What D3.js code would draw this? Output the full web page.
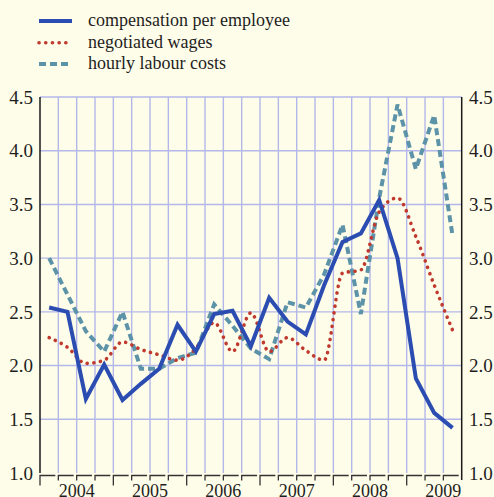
<!DOCTYPE html>
<html>
<head>
<meta charset="utf-8">
<script src="https://cdn.jsdelivr.net/npm/d3@7"></script>
<style>
  html, body { margin: 0; padding: 0; background: #fefde9; }
  svg { display: block; }
</style>
</head>
<body>
<svg id="chart" width="494" height="497"></svg>
<script>
// ---- data (quarterly, 2004 Q1 .. 2009 Q3) ----
const years = ["2004", "2005", "2006", "2007", "2008", "2009"];
const yTicks = [1.0, 1.5, 2.0, 2.5, 3.0, 3.5, 4.0, 4.5];
const seriesNames = ["compensation per employee", "negotiated wages", "hourly labour costs"];
const compensation = [2.54, 2.50, 1.69, 2.01, 1.68, 1.83, 1.97, 2.38, 2.13, 2.48, 2.51, 2.18,
                      2.63, 2.41, 2.29, 2.75, 3.15, 3.23, 3.54, 3.00, 1.88, 1.56, 1.42];
const negotiated   = [2.26, 2.17, 2.02, 2.05, 2.22, 2.15, 2.10, 2.05, 2.16, 2.40, 2.13, 2.49,
                      2.13, 2.26, 2.14, 2.05, 2.86, 2.89, 3.43, 3.56, 3.20, 2.75, 2.33];
const hourly       = [3.00, 2.66, 2.32, 2.13, 2.50, 1.97, 1.97, 2.07, 2.12, 2.57, 2.37, 2.16,
                      2.06, 2.59, 2.54, 2.85, 3.31, 2.48, 3.56, 4.43, 3.83, 4.33, 3.21];

(function () {
const nQ = compensation.length;
const svg = d3.select("#chart");
const W = 494, H = 497;
svg.append("rect").attr("width", W).attr("height", H).attr("fill", "#fefde9");

const pL = 40, pR = 461.7, pT = 97, pB = 473;
const x = d3.scaleLinear().domain([0, nQ]).range([pL, pR]);
const y = d3.scaleLinear().domain([1, 4.5]).range([pB, pT]);

const gridColor = "#b3b7ea";
const font = "'Liberation Serif', 'Times New Roman', serif";

// grid
const g = svg.append("g");
g.selectAll("line.v").data(d3.range(1, nQ)).join("line")
  .attr("x1", d => x(d)).attr("x2", d => x(d))
  .attr("y1", pT).attr("y2", pB)
  .attr("stroke", gridColor).attr("stroke-width", 1.4);
g.selectAll("line.h").data(yTicks.slice(1)).join("line")
  .attr("x1", pL).attr("x2", pR)
  .attr("y1", d => y(d)).attr("y2", d => y(d))
  .attr("stroke", gridColor).attr("stroke-width", 1.4);

// axes lines
svg.append("line").attr("x1", pL).attr("x2", pL).attr("y1", pT).attr("y2", pB)
  .attr("stroke", "#1a1a1a").attr("stroke-width", 1.5);
svg.append("line").attr("x1", pR).attr("x2", pR).attr("y1", pT).attr("y2", pB + 7)
  .attr("stroke", "#1a1a1a").attr("stroke-width", 1.5);

// bottom quarter ticks
const axisY = pB + 2.5;
const tickG = svg.append("g").attr("fill", "none").attr("stroke", "#333").attr("stroke-width", 1.3);
d3.range(0, nQ).forEach(q => {
  const x0 = x(q), x1 = x(q + 1) - 3;
  const len = (q % 4 === 0) ? 10 : 5;
  tickG.append("path").attr("d", `M${x0},${axisY + len}V${axisY}H${x1}`);
});

// y labels
const yl = svg.append("g").attr("font-family", font).attr("font-size", 19).attr("fill", "#1e1e1e");
yl.selectAll("text.l").data(yTicks).join("text")
  .attr("x", 33).attr("y", d => y(d)).attr("dy", "0.35em").attr("text-anchor", "end")
  .text(d => d.toFixed(1));
yl.selectAll("text.r").data(yTicks).join("text")
  .attr("x", 469).attr("y", d => y(d)).attr("dy", "0.35em").attr("text-anchor", "start")
  .text(d => d.toFixed(1));

// year labels
svg.append("g").attr("font-family", font).attr("font-size", 18).attr("fill", "#1e1e1e")
  .selectAll("text").data(years).join("text")
  .attr("x", (d, i) => x(i * 4 + 2)).attr("y", 497).attr("text-anchor", "middle")
  .text(d => d);

// lines
const lineLin = d3.line().x((d, i) => x(i + 0.5)).y(d => y(d));
const lineSmooth = d3.line().x((d, i) => x(i + 0.5)).y(d => y(d)).curve(d3.curveMonotoneX);

const styles = [
  { color: "#2b4cb0", width: 4, dash: null, cap: "butt" },
  { color: "#c0392e", width: 3.6, dash: "0.1 6.6", cap: "round" },
  { color: "#5d93a8", width: 4, dash: "7 4", cap: "butt" }
];

svg.append("path").datum(hourly).attr("d", lineLin)
  .attr("fill", "none").attr("stroke", styles[2].color).attr("stroke-width", styles[2].width)
  .attr("stroke-dasharray", styles[2].dash).attr("stroke-linejoin", "miter");
svg.append("path").datum(negotiated).attr("d", lineSmooth)
  .attr("fill", "none").attr("stroke", styles[1].color).attr("stroke-width", styles[1].width)
  .attr("stroke-dasharray", styles[1].dash).attr("stroke-linecap", "round");
svg.append("path").datum(compensation).attr("d", lineLin)
  .attr("fill", "none").attr("stroke", styles[0].color).attr("stroke-width", styles[0].width)
  .attr("stroke-linejoin", "miter");

// legend
const lg = svg.append("g");
const rowsY = [21, 42.7, 64];
seriesNames.forEach((name, i) => {
  const s = styles[i];
  lg.append("line").attr("x1", 39).attr("x2", 72).attr("y1", rowsY[i]).attr("y2", rowsY[i])
    .attr("stroke", s.color).attr("stroke-width", s.width)
    .attr("stroke-dasharray", s.dash).attr("stroke-linecap", s.cap);
  lg.append("text").attr("x", 88).attr("y", rowsY[i]).attr("dy", "0.3em")
    .attr("font-family", font).attr("font-size", 18).attr("fill", "#1e1e1e")
    .text(name);
});
})();
</script>
</body>
</html>
